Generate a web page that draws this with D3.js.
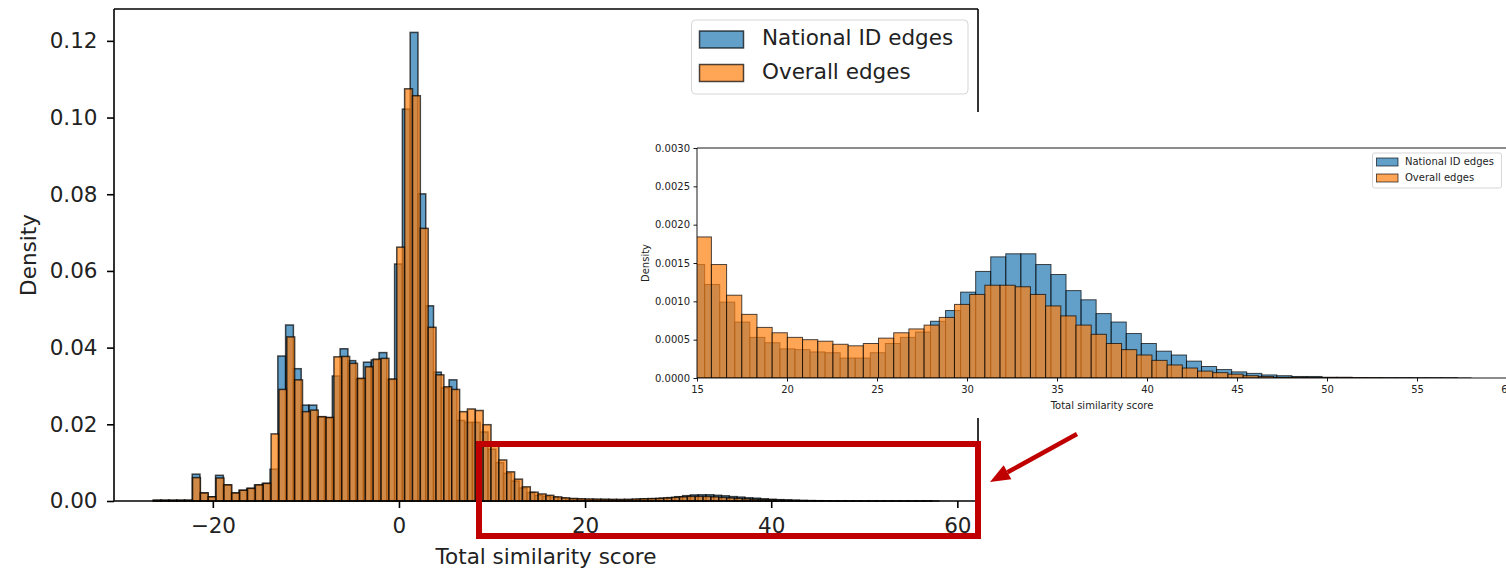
<!DOCTYPE html>
<html lang="en">
<head>
<meta charset="UTF-8">
<title>Total similarity score histogram</title>
<script src="https://cdn.jsdelivr.net/npm/d3@7"></script>
<style>
  body, html {
    margin: 0;
    background: #fff;
  }
  svg {
    display: block;
    font-family: "DejaVu Sans", sans-serif;
  }
</style>
</head>
<body>
<svg width="1506" height="568"></svg>
<script>
// histogram: 100 bins each, both start at the same minimum score
const binStart = -26.4;
const nationalBinWidth = 0.8365;
const overallBinWidth = 0.844;

const nationalDensity = [
  0.0002, 0.0002, 0.0002, 0.0002, 0.0002,
  0.0070, 0.0021, 0.0011, 0.0067, 0.0042,
  0.0021, 0.0028, 0.0033, 0.0042, 0.0046,
  0.0083, 0.0378, 0.0459, 0.0345, 0.0250,
  0.0250, 0.0219, 0.0217, 0.0326, 0.0397,
  0.0366, 0.0318, 0.0362, 0.0368, 0.0387,
  0.0317, 0.0618, 0.1022, 0.1222, 0.0801,
  0.0509, 0.0336, 0.0295, 0.0316, 0.0210,
  0.0205, 0.0205, 0.0180, 0.0135, 0.0100,
  0.0072, 0.0052, 0.0034, 0.0022, 0.00148,
  0.00122, 0.00099, 0.00073, 0.00053, 0.00046,
  0.00038, 0.00037, 0.00034, 0.00033, 0.00026,
  0.00026, 0.00033, 0.00045, 0.00053, 0.00060,
  0.00074, 0.00088, 0.00112, 0.00139, 0.00158,
  0.00162, 0.00162, 0.00148, 0.00135, 0.00114,
  0.00102, 0.00084, 0.00073, 0.00058, 0.00045,
  0.00035, 0.00030, 0.00022, 0.00015, 0.00011,
  0.00008, 0.00006, 0.00004, 0.00003, 0.00002,
  0.00002, 0.00001, 0.00001, 0.000005, 0.000004,
  0.000003, 0.000003, 0.000002, 0.000002, 0.000002
];

const overallDensity = [
  0.0002, 0.0002, 0.0002, 0.0002, 0.0002,
  0.0061, 0.0021, 0.0011, 0.0060, 0.0042,
  0.0021, 0.0028, 0.0033, 0.0042, 0.0046,
  0.0175, 0.0291, 0.0428, 0.0316, 0.0233,
  0.0237, 0.0220, 0.0218, 0.0376, 0.0377,
  0.0359, 0.0320, 0.0350, 0.0370, 0.0372,
  0.0318, 0.0662, 0.1075, 0.1057, 0.0711,
  0.0453, 0.0329, 0.0298, 0.0291, 0.0233,
  0.0240, 0.0236, 0.0199, 0.0143, 0.0107,
  0.0076, 0.0057, 0.0037, 0.0023, 0.00184,
  0.00148, 0.00108, 0.00083, 0.00066, 0.00059,
  0.00053, 0.00050, 0.00048, 0.00044, 0.00042,
  0.00045, 0.00052, 0.00059, 0.00064, 0.00069,
  0.00079, 0.00096, 0.00109, 0.00121, 0.00121,
  0.00119, 0.00109, 0.00094, 0.00081, 0.00069,
  0.00057, 0.00045, 0.00037, 0.00030, 0.00023,
  0.00017, 0.00013, 0.00009, 0.00007, 0.00005,
  0.00003, 0.00002, 0.00001, 0.00001, 0.000008,
  0.000006, 0.000005, 0.000004, 0.000004, 0.000003,
  0.000003, 0.000002, 0.000002, 0.000002, 0.000001
];

const seriesNames = ['National ID edges', 'Overall edges'];
const seriesColors = ['#1f77b4', '#ff7f0e'];

const mainXTicks = [-20, 0, 20, 40, 60];
const mainYTicks = [0, 0.02, 0.04, 0.06, 0.08, 0.10, 0.12];
const insetXTicks = [15, 20, 25, 30, 35, 40, 45, 50, 55, 60];
const insetYTicks = [0, 0.0005, 0.0010, 0.0015, 0.0020, 0.0025, 0.0030];
const insetXDomain = [15, 60];
const insetYDomain = [0, 0.003];
const xLabel = 'Total similarity score';
const yLabel = 'Density';

(function(){
  const svg = d3.select('svg');
  const series = [
    {name: seriesNames[0], color: seriesColors[0], width: nationalBinWidth, values: nationalDensity},
    {name: seriesNames[1], color: seriesColors[1], width: overallBinWidth, values: overallDensity}
  ];
  series.forEach(s => {
    s.bins = s.values.map((v, i) => ({x0: binStart + i*s.width, x1: binStart + (i+1)*s.width, v}));
  });

  // matplotlib style autoscale: 5% margin on x, 5% headroom on y
  const xMin = d3.min(series, s => s.bins[0].x0);
  const xMax = d3.max(series, s => s.bins[s.bins.length-1].x1);
  const pad = (xMax - xMin) * 0.05;
  const yMax = d3.max(series, s => d3.max(s.values)) * 1.05;

  function drawBars(g, x, y, sw) {
    series.forEach(s => {
      g.append('g').selectAll('rect').data(s.bins).enter().append('rect')
        .attr('x', d => x(d.x0))
        .attr('width', d => x(d.x1) - x(d.x0))
        .attr('y', d => y(d.v))
        .attr('height', d => y(0) - y(d.v))
        .attr('fill', s.color).attr('fill-opacity', 0.7)
        .attr('stroke', '#000').attr('stroke-opacity', 0.7).attr('stroke-width', sw);
    });
  }

  function styleAxis(g, fs, sw) {
    g.select('.domain').remove();
    g.selectAll('line').attr('stroke', '#000').attr('stroke-width', sw);
    g.selectAll('text').attr('fill', '#222').style('font-size', fs + 'px').style('font-family', '"DejaVu Sans", sans-serif');
  }

  function legend(g, x, y, w, h, fs, patch, rows, r) {
    g.append('rect').attr('x', x).attr('y', y).attr('width', w).attr('height', h)
      .attr('rx', r).attr('fill', '#fff').attr('fill-opacity', 0.8)
      .attr('stroke', '#d6d6d6').attr('stroke-width', 1);
    series.forEach((s, i) => {
      g.append('rect').attr('x', patch.x).attr('y', rows[i] - patch.h + patch.dy)
        .attr('width', patch.w).attr('height', patch.h)
        .attr('fill', s.color).attr('fill-opacity', 0.7)
        .attr('stroke', '#000').attr('stroke-opacity', 0.7).attr('stroke-width', patch.sw);
      g.append('text').attr('x', patch.tx).attr('y', rows[i])
        .attr('fill', '#222').style('font-size', fs + 'px').text(s.name);
    });
  }

  // ---------- main axes ----------
  const M = {l: 114, t: 9, r: 978, b: 501};
  const x = d3.scaleLinear().domain([xMin - pad, xMax + pad]).range([M.l, M.r]);
  const y = d3.scaleLinear().domain([0, yMax]).range([M.b, M.t]);
  const main = svg.append('g');
  drawBars(main, x, y, 1.5);

  const frame = main.append('g').attr('fill', 'none').attr('stroke', '#000').attr('stroke-width', 1.6);
  frame.append('line').attr('x1', M.l).attr('x2', M.l).attr('y1', M.t).attr('y2', M.b);
  frame.append('line').attr('x1', M.l).attr('x2', M.r).attr('y1', M.b).attr('y2', M.b);
  frame.append('line').attr('x1', M.l).attr('x2', M.r).attr('y1', M.t).attr('y2', M.t);
  frame.append('line').attr('x1', M.r).attr('x2', M.r).attr('y1', M.t).attr('y2', M.b);

  main.append('g').attr('transform', `translate(0,${M.b})`)
    .call(d3.axisBottom(x).tickValues(mainXTicks).tickSize(7).tickPadding(10).tickFormat(d3.format('d')))
    .call(g => styleAxis(g, 21.5, 1.6));
  main.append('g').attr('transform', `translate(${M.l},0)`)
    .call(d3.axisLeft(y).tickValues(mainYTicks).tickSize(7).tickPadding(9.5).tickFormat(d3.format('.2f')))
    .call(g => styleAxis(g, 21.5, 1.6));

  main.append('text').attr('x', (M.l + M.r)/2).attr('y', 564).attr('text-anchor', 'middle')
    .attr('fill', '#222').style('font-size', '21.5px').text(xLabel);
  main.append('text').attr('transform', `translate(36,${(M.t + M.b)/2}) rotate(-90)`).attr('text-anchor', 'middle')
    .attr('fill', '#222').style('font-size', '21.5px').text(yLabel);

  legend(main, 691.5, 20, 276.5, 74, 21.5,
    {x: 699.5, w: 44, h: 17, dy: 3, tx: 762, sw: 1.5}, [45, 78.5], 4);

  // ---------- inset (zoom into the tail) ----------
  const I = {l: 697, t: 148, r: 1507, b: 378};
  const inset = svg.append('g');
  inset.append('rect').attr('x', 632).attr('y', 112).attr('width', 880).attr('height', 306).attr('fill', '#fff');
  const ix = d3.scaleLinear().domain(insetXDomain).range([I.l, I.r]);
  const iy = d3.scaleLinear().domain(insetYDomain).range([I.b, I.t]);

  svg.append('defs').append('clipPath').attr('id', 'insetClip')
    .append('rect').attr('x', I.l).attr('y', I.t).attr('width', I.r - I.l).attr('height', I.b - I.t);
  drawBars(inset.append('g').attr('clip-path', 'url(#insetClip)'), ix, iy, 1);

  const iframe = inset.append('g').attr('fill', 'none').attr('stroke', '#000').attr('stroke-width', 0.9);
  iframe.append('line').attr('x1', I.l).attr('x2', I.l).attr('y1', I.t).attr('y2', I.b);
  iframe.append('line').attr('x1', I.l).attr('x2', I.r).attr('y1', I.b).attr('y2', I.b);
  iframe.append('line').attr('x1', I.l).attr('x2', I.r).attr('y1', I.t).attr('y2', I.t);
  iframe.append('line').attr('x1', I.r).attr('x2', I.r).attr('y1', I.t).attr('y2', I.b);

  inset.append('g').attr('transform', `translate(0,${I.b})`)
    .call(d3.axisBottom(ix).tickValues(insetXTicks).tickSize(3.5).tickPadding(4.5).tickFormat(d3.format('d')))
    .call(g => styleAxis(g, 10, 0.9));
  inset.append('g').attr('transform', `translate(${I.l},0)`)
    .call(d3.axisLeft(iy).tickValues(insetYTicks).tickSize(3.5).tickPadding(3.5).tickFormat(d3.format('.4f')))
    .call(g => styleAxis(g, 10, 0.9));

  inset.append('text').attr('x', (I.l + I.r)/2).attr('y', 409).attr('text-anchor', 'middle')
    .attr('fill', '#222').style('font-size', '10px').text(xLabel);
  inset.append('text').attr('transform', `translate(648.5,${(I.t + I.b)/2}) rotate(-90)`).attr('text-anchor', 'middle')
    .attr('fill', '#222').style('font-size', '10px').text(yLabel);

  legend(inset, 1372.5, 153, 129, 35, 10,
    {x: 1376.5, w: 21.5, h: 8, dy: 1, tx: 1405, sw: 0.9}, [165, 181], 2);

  // ---------- red highlight box and arrow ----------
  const red = '#c00000';
  svg.append('rect').attr('x', 479).attr('y', 444).attr('width', 499).attr('height', 92)
    .attr('fill', 'none').attr('stroke', red).attr('stroke-width', 6);

  const aStart = [1077, 434], aTip = [990, 482];
  const dx = aTip[0] - aStart[0], dy = aTip[1] - aStart[1];
  const len = Math.hypot(dx, dy), ux = dx/len, uy = dy/len;
  const hl = 20, hw = 8;
  const base = [aTip[0] - ux*hl, aTip[1] - uy*hl];
  svg.append('line').attr('x1', aStart[0]).attr('y1', aStart[1]).attr('x2', base[0]).attr('y2', base[1])
    .attr('stroke', red).attr('stroke-width', 4.5);
  svg.append('polygon')
    .attr('points', [aTip, [base[0] - uy*hw, base[1] + ux*hw], [base[0] + uy*hw, base[1] - ux*hw]].map(p => p.join(',')).join(' '))
    .attr('fill', red);
})();
</script>
</body>
</html>
